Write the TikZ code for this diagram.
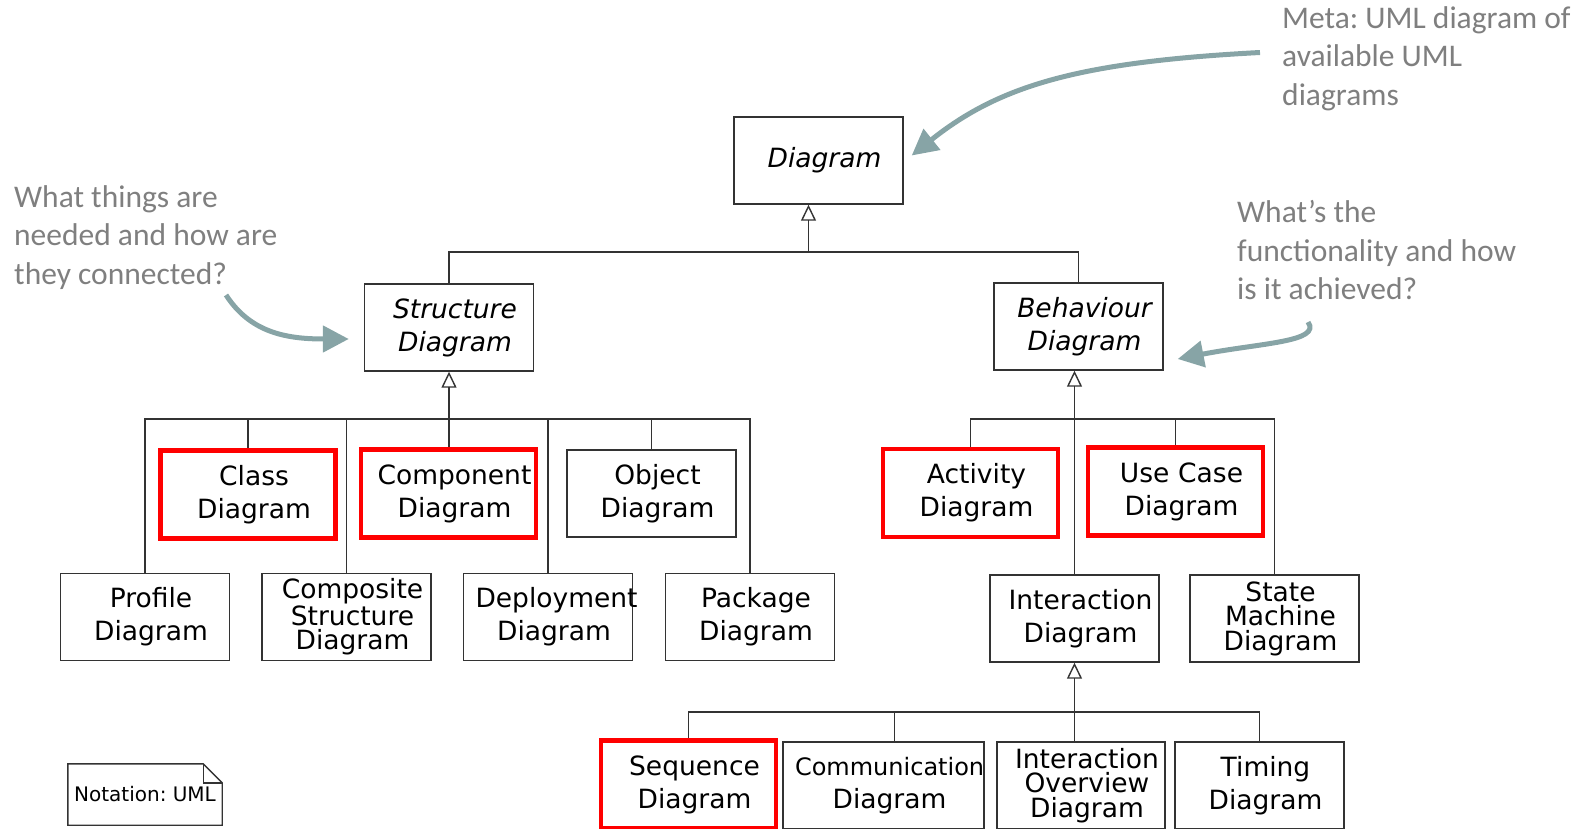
\documentclass[tikz,border=0pt]{standalone}
\usepackage{fontspec}
\newfontfamily\umlfont{DejaVu Sans}
\newfontfamily\remarkfont{Carlito}
\frenchspacing
\usepackage{tikz}
\usetikzlibrary{arrows.meta}
\usetikzlibrary{calc}
\usetikzlibrary{backgrounds}
\definecolor{remarkgrey}{HTML}{7F7F7F}
\definecolor{pointercol}{HTML}{87A4A6}
\definecolor{boxline}{HTML}{333333}
\tikzset{
  box/.style={draw=boxline, line width=1.4pt, minimum width=169pt, text width=169pt,
    minimum height=87pt, inner sep=0pt, align=center,
    execute at begin node={\advance\leftskip by 12pt},
    font=\umlfont\fontsize{26.5}{33}\selectfont},
  abstract/.style={box, font=\umlfont\itshape\fontsize{26.5}{33}\selectfont},
  hl/.style={box, draw=red, line width=4.5pt, minimum width=175pt, text width=175pt,
    minimum height=88pt},
  tight/.style={font=\umlfont\fontsize{26.5}{24.5}\selectfont},
  link/.style={draw=boxline, line width=1.4pt},
  gen/.style={link, {Triangle[open, length=16pt, width=15pt]}-},
  notebox/.style={minimum width=154pt, minimum height=61pt, inner sep=0pt,
    font=\umlfont\fontsize{20}{24}\selectfont},
  remark/.style={align=left, anchor=west, inner sep=0pt, text=remarkgrey,
    font=\remarkfont\fontsize{31.5}{38.5}\selectfont},
  pointer/.style={draw=pointercol, line width=5pt, -{Triangle[length=26pt, width=26pt]}}
}

\begin{document}
\begin{tikzpicture}[x=1pt, y=-1pt] % UML diagram kinds

  \useasboundingbox (0,0) rectangle (1583,829);

  \node [abstract] (diag) at (818.5,160.5) {Diagram};
  \node [abstract] (struct) at (449,327.5) {Structure\\Diagram};
  \node [abstract] (behav) at (1078.5,326.5) {Behaviour\\Diagram};

  \node [hl] (class) at (248,494.5) {Class\\Diagram};
  \node [hl] (compo) at (448.5,493.5) {Component\\Diagram};
  \node [box] (object) at (651.5,493.5) {Object\\Diagram};
  \node [box] (profile) at (145,617) {Profile\\Diagram};
  \node [box, tight] (compos) at (346.5,617) {Composite\\Structure\\Diagram};
  \node [box] (deploy) at (548,617) {Deployment\\Diagram};
  \node [box] (package) at (750,617) {Package\\Diagram};

  \node [hl] (activity) at (970.5,493) {Activity\\Diagram};
  \node [hl] (usecase) at (1175.5,491.5) {Use Case\\Diagram};
  \node [box] (inter) at (1074.5,618.5) {Interaction\\Diagram};
  \node [box, tight] (state) at (1274.5,618.5) {State\\Machine\\Diagram};

  \node [hl] (sequence) at (688.5,784.5) {Sequence\\Diagram};
  \node [box, minimum width=201pt, text width=201pt] (commu) at (883.5,785.5)
    {{\fontsize{24}{33}\selectfont Communication}\\Diagram};
  \node [box, tight, minimum width=168pt, text width=168pt] (overview) at (1081,785.5) {Interaction\\Overview\\Diagram};
  \node [box] (timing) at (1259.5,785.5) {Timing\\Diagram};

  \node [notebox] (note) at (145,794.5) {Notation: UML};
  \draw [link] (note.north west) -- ([xshift=-19pt]note.north east)
    -- ([yshift=-19pt]note.north east) -- (note.south east) -- (note.south west) -- cycle;
  \draw [link] ([xshift=-19pt]note.north east) |- ([yshift=-19pt]note.north east);

  \coordinate (topbus) at (0,252);
  \coordinate (midbus) at (0,419);
  \coordinate (lowbus) at (0,712);

  \begin{scope}[on background layer]
    \draw [gen] ([xshift=-10pt]diag.south) -- ([xshift=-10pt]diag.south |- topbus);
    \draw [link] (struct.north) |- (behav.north |- topbus) -- (behav.north);

    \draw [gen] (struct.south) -- (struct.south |- compo.north);
    \draw [link] (profile.north) |- (package.north |- midbus) -- (package.north);
    \foreach \n in {class, compos, deploy, object}
      \draw [link] (\n.north) -- (\n.north |- midbus);

    \draw [gen] (inter.north |- behav.south) -- (inter.north);
    \draw [link] (activity.north) |- (state.north |- midbus) -- (state.north);
    \draw [link] (usecase.north) -- (usecase.north |- midbus);

    \draw [gen] (inter.south) -- (inter.south |- overview.north);
    \draw [link] (sequence.north) |- (timing.north |- lowbus) -- (timing.north);
    \draw [link] ([xshift=11pt]commu.north) -- ([xshift=11pt]commu.north |- lowbus);
  \end{scope}

  \node [remark] (meta) at (1282,58.5) {Meta: UML diagram of\\available UML\\diagrams};
  \node [remark] (whatstruct) at (14,237.5) {What things are\\needed and how are\\they connected?};
  \node [remark] (whatbehav) at (1237,250.5) {What’s the\\functionality and how\\is it achieved?};

  \coordinate (metafoot) at (1260,52.5);
  \coordinate (structfoot) at (226,295);
  \coordinate (behavfoot) at (1308,322);
  \draw [pointer] (metafoot) .. controls (1080,62) and (1000,85) .. ([xshift=8pt, yshift=5pt]diag.east);
  \draw [pointer] (structfoot) .. controls (250,332) and (285,339) .. ([xshift=-15pt, yshift=-11.5pt]struct.west);
  \draw [pointer] (behavfoot) .. controls (1322,342) and (1260,343) .. ([xshift=14pt, yshift=-32.5pt]behav.east);

\end{tikzpicture}
\end{document}
